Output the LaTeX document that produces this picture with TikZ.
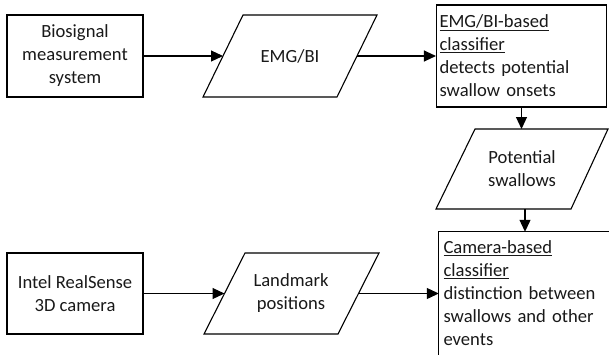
\documentclass[tikz,border=0pt]{standalone}
\usepackage{fontspec}
\setmainfont{Carlito}
\usetikzlibrary{arrows.meta}
\begin{document}
\begin{tikzpicture}[x=1pt,y=-1pt,
  every node/.style={font=\fontsize{18.6pt}{23pt}\selectfont, text=black!90},
  boxc/.style={draw, line width=1.1pt, align=center, inner sep=0pt},
  boxl/.style={align=left, inner xsep=3pt, inner ysep=0pt},
  para/.style={draw, line width=1.1pt, line join=miter},
  arr/.style={line width=1.1pt, -{Triangle[length=12pt,width=11pt]}}]
\useasboundingbox (0,0) rectangle (609,354);
\clip (0,0) rectangle (609,354);
% boxes
\node[boxc, minimum width=136pt, minimum height=82pt] (bio) at (75,56) {Biosignal\\measurement\\system};
\node[boxc, minimum width=136pt, minimum height=81pt] (intel) at (75,293.5) {Intel RealSense\\3D camera};
\node[boxl, draw, line width=1.1pt, minimum width=170pt, minimum height=102pt, text width=164pt] (emgcl) at (521.5,56)
  {\underline{EMG/BI-based}\\\underline{classifier}\\detects potential\\swallow onsets};
\node[boxl, minimum width=172pt, minimum height=123pt, text width=163pt, inner xsep=4.5pt] (camcl) at (525,293.5)
  {\underline{Camera-based}\\\underline{classifier}\\distinction between\\swallows and other\\events};
\draw[line width=1.1pt] ([yshift=-30pt]camcl.south west) -- (camcl.north west) -- ([xshift=30pt]camcl.north east);
% parallelograms
\draw[para] (203,97) -- (243,15) -- (377,15) -- (337,97) -- cycle;
\node (emgbi) at (290,56) {EMG/BI};
\coordinate (emgL) at (223,56);
\coordinate (emgR) at (357,56);
\draw[para] (436,209) -- (475,129) -- (608,129) -- (571,209) -- cycle;
\node[align=center] (pot) at (522,169) {Potential\\swallows};
\coordinate (potT) at (521.5,129);
\coordinate (potB) at (525,209);
\draw[para] (204,334) -- (245,253) -- (379,253) -- (338,334) -- cycle;
\node[align=center] (land) at (291,293.5) {Landmark\\positions};
\coordinate (landL) at (224.5,293.5);
\coordinate (landR) at (358.5,293.5);
% arrows
\draw[arr] (bio.east) -- (emgL);
\draw[arr] (emgR) -- (emgcl.west);
\draw[arr] (emgcl.south) -- (potT);
\draw[arr] (potB) -- (camcl.north);
\draw[arr] (intel.east) -- (landL);
\draw[arr] (landR) -- (camcl.west);
\end{tikzpicture}
\end{document}
